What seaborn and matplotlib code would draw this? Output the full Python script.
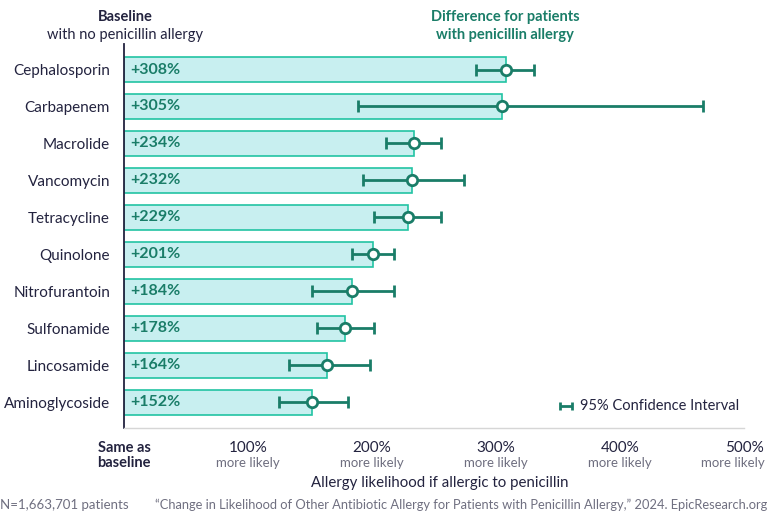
import numpy as np
import pandas as pd
import seaborn as sns
import matplotlib.pyplot as plt
from matplotlib.transforms import blended_transform_factory

drugs = ['Cephalosporin', 'Carbapenem', 'Macrolide', 'Vancomycin', 'Tetracycline',
         'Quinolone', 'Nitrofurantoin', 'Sulfonamide', 'Lincosamide', 'Aminoglycoside']
increase = [308, 305, 234, 232, 229, 201, 184, 178, 164, 152]
ci_low = [284, 189, 211, 193, 202, 184, 152, 156, 133, 125]
ci_high = [331, 467, 256, 274, 256, 218, 218, 202, 198, 181]
tick_vals = [0, 100, 200, 300, 400, 500]
tick_top = ['Same as', '100%', '200%', '300%', '400%', '500%']
tick_bottom = ['baseline', 'more likely', 'more likely', 'more likely', 'more likely', 'more likely']

NAVY = '#23233f'
TEAL = '#1a7d68'
GRAY = '#6f6f80'

sns.set_style('white')
plt.rcParams['font.family'] = ['Lato', 'DejaVu Sans']

df = pd.DataFrame({'drug': drugs, 'increase': increase})

fig = plt.figure(figsize=(7.68, 5.12), dpi=100)
ax = fig.add_axes([124 / 768, 1 - 428 / 512, 620 / 768, 384 / 512])

sns.barplot(data=df, x='increase', y='drug', orient='h', color='#c8eff0',
            edgecolor='#22c3a3', linewidth=1.2, width=0.68, ax=ax)
for p in ax.patches:
    p.set_facecolor('#c8eff0')

ypos = np.arange(len(drugs))
inc = np.array(increase)
xerr = [inc - np.array(ci_low), np.array(ci_high) - inc]
ax.errorbar(increase, ypos, xerr=xerr, fmt='o', color=TEAL, ecolor=TEAL,
            elinewidth=2, capsize=4, capthick=2, markersize=7.5,
            markerfacecolor='white', markeredgecolor=TEAL, markeredgewidth=2, zorder=5)

for y, v in zip(ypos, increase):
    ax.text(5, y, f'+{v}%', va='center', ha='left', fontsize=11.5,
            fontweight='bold', color=TEAL)

ax.set_xlim(0, 500)
ax.set_ylim(9.7, -0.69)
ax.set_xlabel('')
ax.set_ylabel('')
ax.tick_params(axis='y', length=0, pad=10, labelsize=11, labelcolor=NAVY)
ax.set_xticks(tick_vals)
ax.set_xticklabels([''] * len(tick_vals))
ax.tick_params(axis='x', length=5, color='#d0d0d0', width=1, direction='out')

for s in ['top', 'right']:
    ax.spines[s].set_visible(False)
ax.spines['left'].set_color(NAVY)
ax.spines['left'].set_linewidth(1.3)
ax.spines['bottom'].set_color('#d6d6d6')
ax.spines['bottom'].set_linewidth(1)

trans = blended_transform_factory(ax.transData, ax.transAxes)
for x, t, b in zip(tick_vals, tick_top, tick_bottom):
    if x == 0:
        ax.text(x, -0.035, t + '\n' + b, transform=trans, ha='center', va='top',
                fontsize=10.5, fontweight='bold', color=NAVY, linespacing=1.05)
    elif x == tick_vals[-1]:
        ax.text(x, -0.035, t, transform=trans, ha='center', va='top',
                fontsize=11, color=NAVY)
        fig.text(765 / 768, 1 - 457 / 512, b, ha='right', va='top',
                 fontsize=9.5, color=GRAY)
    else:
        ax.text(x, -0.035, t, transform=trans, ha='center', va='top',
                fontsize=11, color=NAVY)
        ax.text(x, -0.075, b, transform=trans, ha='center', va='top',
                fontsize=9.5, color=GRAY)

# legend for confidence interval
ax.errorbar([356.5], [9.1], xerr=[[5], [5]], fmt='none', ecolor=TEAL,
            elinewidth=2, capsize=3, capthick=2, clip_on=False)
ax.text(368, 9.1, '95% Confidence Interval', va='center', ha='left',
        fontsize=10.5, color=NAVY)

fig.text(440 / 768, 1 - 483 / 512, 'Allergy likelihood if allergic to penicillin',
         ha='center', va='center', fontsize=10.8, color=NAVY)

fig.text(125 / 768, 1 - 17 / 512, 'Baseline', ha='center', va='center',
         fontsize=10.5, fontweight='bold', color=NAVY)
fig.text(125 / 768, 1 - 35 / 512, 'with no penicillin allergy', ha='center', va='center',
         fontsize=10.5, color=NAVY)
fig.text(505 / 768, 1 - 17 / 512, 'Difference for patients', ha='center', va='center',
         fontsize=10.5, fontweight='bold', color=TEAL)
fig.text(505 / 768, 1 - 35 / 512, 'with penicillin allergy', ha='center', va='center',
         fontsize=10.5, fontweight='bold', color=TEAL)

fig.text(0, 1 - 505 / 512, 'N=1,663,701 patients', ha='left', va='center',
         fontsize=9.5, color=GRAY)
fig.text(767 / 768, 1 - 505 / 512,
         '\u201cChange in Likelihood of Other Antibiotic Allergy for Patients with Penicillin Allergy,\u201d 2024. EpicResearch.org',
         ha='right', va='center', fontsize=9.25, color=GRAY)

fig.savefig('out.png', dpi=100)
